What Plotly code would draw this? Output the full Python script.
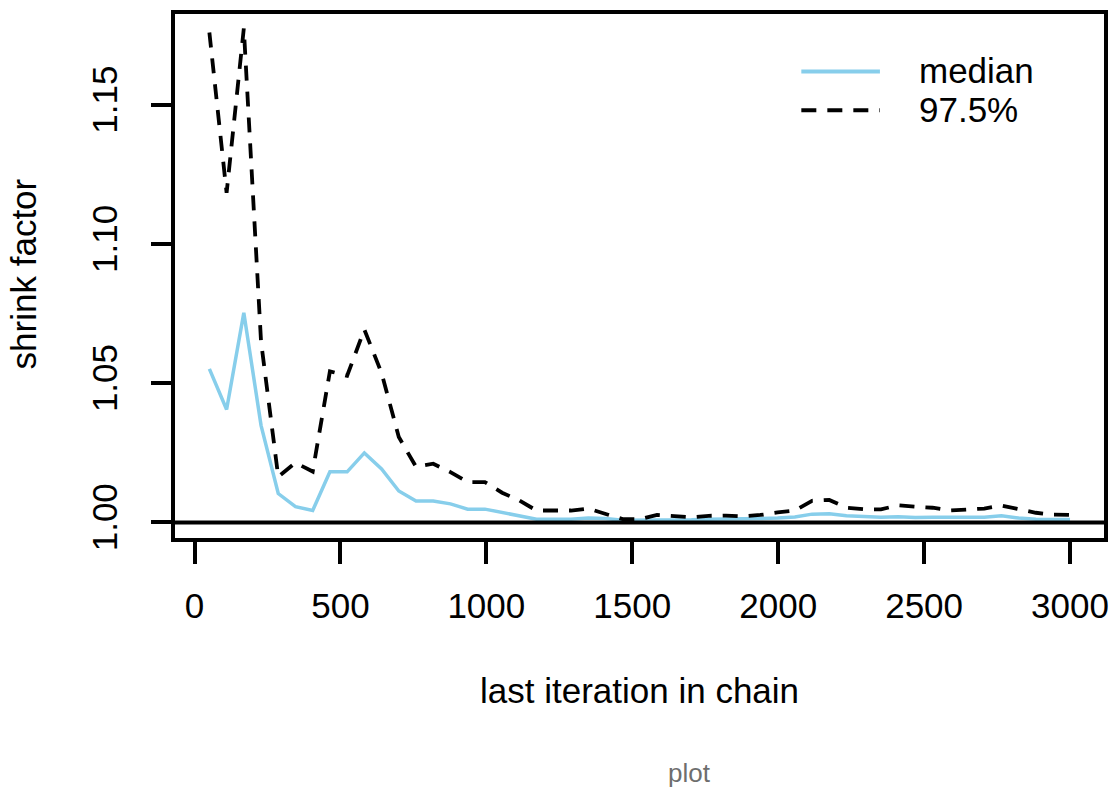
import plotly.graph_objects as go

# Gelman-Rubin shrink factor by last iteration kept in the chain
last_iter = [51, 110, 169, 228, 287, 346, 405, 464, 523, 582,
             641, 700, 759, 818, 877, 936, 995, 1054, 1113, 1172,
             1231, 1290, 1349, 1408, 1467, 1526, 1585, 1644, 1703, 1762,
             1821, 1880, 1939, 1998, 2057, 2116, 2175, 2234, 2293, 2352,
             2411, 2470, 2529, 2588, 2647, 2706, 2765, 2824, 2883, 2942,
             3000]

shrink_median = [1.0552, 1.0406, 1.0753, 1.0349, 1.0104, 1.0057, 1.0043, 1.0182, 1.0182, 1.0250,
                 1.0192, 1.0113, 1.0077, 1.0077, 1.0067, 1.0048, 1.0048, 1.0035, 1.0025, 1.0012,
                 1.0012, 1.0012, 1.0016, 1.0014, 1.0008, 1.0008, 1.0010, 1.0010, 1.0010, 1.0012,
                 1.0012, 1.0012, 1.0014, 1.0016, 1.0020, 1.0030, 1.0031, 1.0024, 1.0020, 1.0019,
                 1.0021, 1.0018, 1.0019, 1.0019, 1.0020, 1.0019, 1.0024, 1.0016, 1.0012, 1.0011,
                 1.0011]

shrink_975 = [1.1760, 1.1184, 1.1775, 1.0650, 1.0164, 1.0215, 1.0183, 1.0543, 1.0527, 1.0693,
              1.0537, 1.0307, 1.0200, 1.0211, 1.0181, 1.0145, 1.0145, 1.0107, 1.0079, 1.0043,
              1.0043, 1.0043, 1.0050, 1.0030, 1.0012, 1.0012, 1.0027, 1.0023, 1.0019, 1.0024,
              1.0025, 1.0022, 1.0027, 1.0036, 1.0043, 1.0078, 1.0081, 1.0053, 1.0048, 1.0047,
              1.0062, 1.0057, 1.0053, 1.0043, 1.0045, 1.0050, 1.0061, 1.0048, 1.0035, 1.0028,
              1.0027]

x_ticks = [0, 500, 1000, 1500, 2000, 2500, 3000]
y_ticks = [1.00, 1.05, 1.10, 1.15]
y_tick_text = ["1.00", "1.05", "1.10", "1.15"]

series_names = ["median", "97.5%"]

FONT = "Liberation Sans, Arial, sans-serif"
SKY = "#87CEEB"
DASH = "15px,11px"

fig = go.Figure()
fig.add_trace(go.Scatter(x=last_iter, y=shrink_median, mode="lines", name=series_names[0],
                         line=dict(color=SKY, width=3.5), showlegend=False))
fig.add_trace(go.Scatter(x=last_iter, y=shrink_975, mode="lines", name=series_names[1],
                         line=dict(color="black", width=3.8, dash=DASH), showlegend=False))

# reference line at a shrink factor of 1
fig.add_shape(type="line", xref="paper", yref="y", x0=0, x1=1, y0=1, y1=1,
              line=dict(color="black", width=4))

# legend drawn in the top-right corner
leg_x0, leg_x1 = 0.6742, 0.7588
fig.add_shape(type="line", xref="paper", yref="paper", x0=leg_x0, x1=leg_x1, y0=0.8902, y1=0.8902,
              line=dict(color=SKY, width=4))
fig.add_shape(type="line", xref="paper", yref="paper", x0=leg_x0, x1=leg_x1, y0=0.8163, y1=0.8163,
              line=dict(color="black", width=4, dash=DASH))
fig.add_annotation(xref="paper", yref="paper", x=0.7985, y=0.893, text=series_names[0],
                   showarrow=False, xanchor="left", yanchor="middle",
                   font=dict(family=FONT, size=35, color="black"))
fig.add_annotation(xref="paper", yref="paper", x=0.7985, y=0.8175, text=series_names[1],
                   showarrow=False, xanchor="left", yanchor="middle",
                   font=dict(family=FONT, size=35, color="black"))

# axis titles
fig.add_annotation(xref="paper", yref="paper", x=0.5, y=-0.2907, text="last iteration in chain",
                   showarrow=False, xanchor="center", yanchor="middle",
                   font=dict(family=FONT, size=35, color="black"))
fig.add_annotation(xref="paper", yref="paper", x=-0.1632, y=0.5038, text="shrink factor",
                   showarrow=False, xanchor="center", yanchor="middle", textangle=-90,
                   font=dict(family=FONT, size=35, color="black"))
fig.add_annotation(xref="paper", yref="paper", x=0.5536, y=-0.4494, text="plot",
                   showarrow=False, xanchor="center", yanchor="middle",
                   font=dict(family=FONT, size=26, color="#6e6e6e"))

fig.update_xaxes(range=[-66.8, 3116.4], tickmode="array", tickvals=x_ticks,
                 ticktext=[str(v) for v in x_ticks],
                 showgrid=False, zeroline=False, showline=True, mirror=True,
                 linecolor="black", linewidth=4, ticks="outside", ticklen=22, tickwidth=4,
                 tickcolor="black", ticklabelstandoff=12,
                 tickfont=dict(family=FONT, size=35, color="black"), automargin=False)
fig.update_yaxes(range=[0.99443, 1.18265], tickmode="array", tickvals=y_ticks, ticktext=y_tick_text,
                 tickangle=-90, showgrid=False, zeroline=False, showline=True, mirror=True,
                 linecolor="black", linewidth=4, ticks="outside", ticklen=20, tickwidth=4,
                 tickcolor="black", ticklabelstandoff=20,
                 tickfont=dict(family=FONT, size=35, color="black"), automargin=False)

fig.update_layout(width=1115, height=791, margin=dict(l=175, r=11, t=14, b=253),
                  paper_bgcolor="white", plot_bgcolor="white")

fig.write_html("out.html")
